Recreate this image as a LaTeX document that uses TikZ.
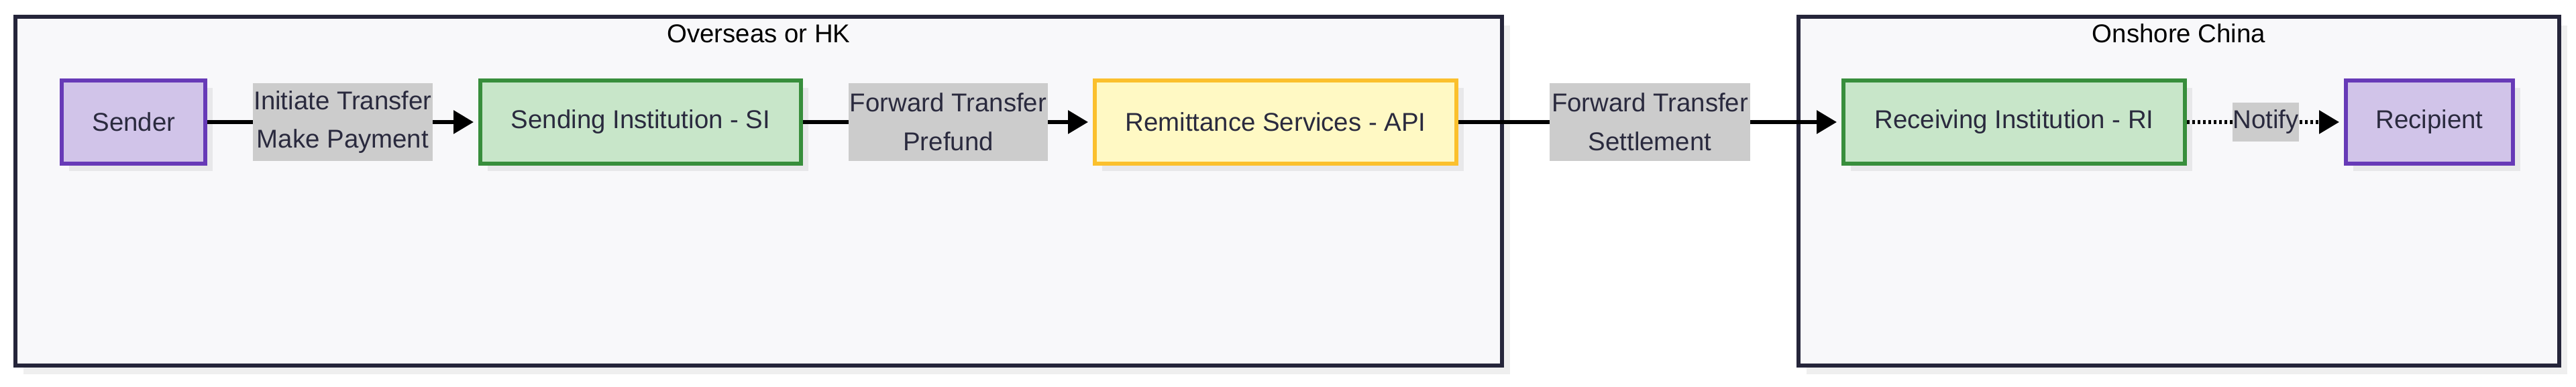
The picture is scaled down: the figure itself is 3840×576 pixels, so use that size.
\documentclass[tikz,border=0pt]{standalone}
\usepackage{fontspec}
\setmainfont{Liberation Sans}
\usetikzlibrary{arrows.meta,shadows}
\definecolor{txt}{HTML}{2A2A3E}
\definecolor{clusterfill}{HTML}{F8F8FA}
\definecolor{clusterline}{HTML}{25253A}
\definecolor{clustershadow}{HTML}{EFEFEF}
\definecolor{nodeshadow}{HTML}{E8E8EA}
\definecolor{purplefill}{HTML}{D1C4E9}
\definecolor{purpleline}{HTML}{673AB7}
\definecolor{greenfill}{HTML}{C8E6C9}
\definecolor{greenline}{HTML}{388E3C}
\definecolor{yellowfill}{HTML}{FFF9C4}
\definecolor{yellowline}{HTML}{FBC02D}
\definecolor{lblgray}{HTML}{CCCCCC}
\tikzset{
  box/.style={draw, line width=6pt, minimum height=124pt, inner sep=0pt,
    font=\fontsize{38.4}{46}\selectfont, text=txt,
    general shadow={fill=nodeshadow, shadow xshift=11pt, shadow yshift=-11pt}},
  purplebox/.style={box, fill=purplefill, draw=purpleline},
  greenbox/.style={box, fill=greenfill, draw=greenline},
  yellowbox/.style={box, fill=yellowfill, draw=yellowline},
  lbl/.style={fill=lblgray, inner sep=0pt, align=center,
    font=\fontsize{38.4}{57.6}\selectfont, text=txt},
  flow/.style={line width=6pt, draw=black, -{Triangle[length=30pt,width=34pt]}, shorten >=7pt},
  dotflow/.style={flow, dash pattern=on 4pt off 4pt},
  cluster/.style={draw=clusterline, fill=clusterfill, line width=5.6pt, inner sep=0pt,
    general shadow={fill=clustershadow, shadow xshift=12pt, shadow yshift=-13pt}},
  ctitle/.style={anchor=base, font=\fontsize{38.4}{46}\selectfont, text=black},
}
\begin{document}
\begin{tikzpicture}[x=1pt,y=-1pt]
\useasboundingbox (0,0) rectangle (3840,576);
% clusters
\node (c1) [cluster, minimum width=2216pt, minimum height=520pt] at (1131,285) {};
\node (c2) [cluster, minimum width=1134pt, minimum height=520pt] at (3248,285) {};
\node (t1) [ctitle] at (1131,63) {Overseas or HK};
\node (t2) [ctitle] at (3248,63) {Onshore China};
% nodes
\node (sender) [purplebox, minimum width=214pt] at (199.3,182) {Sender};
\node (si) [greenbox, minimum width=478pt] at (955,182) {Sending Institution - SI};
\node (api) [yellowbox, minimum width=539pt] at (1901.5,182) {Remittance Services - API};
\node (ri) [greenbox, minimum width=509pt] at (3002.5,182) {Receiving Institution - RI};
\node (rec) [purplebox, minimum width=249pt] at (3621.5,182) {Recipient};
% edges
\draw[flow] (sender) -- (si);
\draw[flow] (si) -- (api);
\draw[flow] (api) -- (ri);
\draw[dotflow] (ri) -- (rec);
% labels
\node (l1) [lbl, minimum width=268pt, minimum height=116pt] at (511,182) {Initiate Transfer\\Make Payment};
\node (l2) [lbl, minimum width=297pt, minimum height=116pt] at (1413.5,182) {Forward Transfer\\Prefund};
\node (l3) [lbl, minimum width=299pt, minimum height=116pt] at (2459.5,182) {Forward Transfer\\Settlement};
\node (l4) [lbl, minimum width=99pt, minimum height=58pt] at (3377.5,182) {Notify};
\end{tikzpicture}
\end{document}
